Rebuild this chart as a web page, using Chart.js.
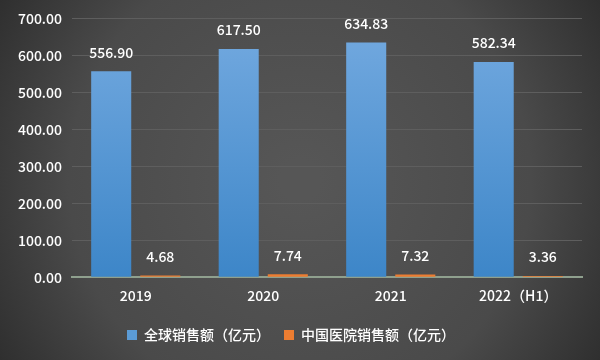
<!DOCTYPE html>
<html>
<head>
<meta charset="utf-8">
<script src="https://cdn.jsdelivr.net/npm/chart.js@4/dist/chart.umd.min.js"></script>
<style>
    html, body { margin: 0; padding: 0; background: #333; }
    #wrap { width: 600px; height: 360px; }
</style>
</head>
<body>
<div id="wrap"><canvas id="salesChart" width="600" height="360"></canvas></div>
<script>
    const categories = ['2019', '2020', '2021', '2022（H1）'];
    const globalSales = [556.90, 617.50, 634.83, 582.34];
    const chinaSales = [4.68, 7.74, 7.32, 3.36];
    const seriesNames = ['全球销售额（亿元）', '中国医院销售额（亿元）'];

    const FONT = '"Noto Sans CJK SC", "DejaVu Sans", sans-serif';

    // 背景：中间亮、四周暗
    const bgPlugin = {
        id: 'bg',
        beforeDraw(chart) {
            const { ctx, width, height } = chart;
            const g = ctx.createRadialGradient(width / 2, height / 2, 20, width / 2, height / 2, width * 0.62);
            g.addColorStop(0, '#565656');
            g.addColorStop(0.6, '#4a4a4a');
            g.addColorStop(1, '#2a2a2a');
            ctx.save();
            ctx.fillStyle = g;
            ctx.fillRect(0, 0, width, height);
            ctx.restore();
        }
    };

    // 柱顶数值
    const valueLabels = {
        id: 'valueLabels',
        afterDatasetsDraw(chart) {
            const { ctx } = chart;
            ctx.save();
            ctx.fillStyle = '#ffffff';
            ctx.font = '500 14px ' + FONT;
            ctx.textAlign = 'center';
            ctx.textBaseline = 'middle';
            chart.data.datasets.forEach((ds, i) => {
                chart.getDatasetMeta(i).data.forEach((bar, j) => {
                    ctx.fillText(ds.data[j].toFixed(2), bar.x, bar.y - 19);
                });
            });
            ctx.restore();
        }
    };

    function blueFill(context) {
        const area = context.chart.chartArea;
        if (!area) return '#5b9bd5';
        const g = context.chart.ctx.createLinearGradient(0, area.top, 0, area.bottom);
        g.addColorStop(0, '#74aae0');
        g.addColorStop(1, '#3d86c8');
        return g;
    }

    new Chart(document.getElementById('salesChart'), {
        type: 'bar',
        data: {
            labels: categories,
            datasets: [{
                label: seriesNames[0],
                data: globalSales,
                backgroundColor: blueFill,
                borderWidth: 0,
                categoryPercentage: 0.77,
                barPercentage: 0.816
            }, {
                label: seriesNames[1],
                data: chinaSales,
                backgroundColor: '#ed7d31',
                borderWidth: 0,
                categoryPercentage: 0.77,
                barPercentage: 0.816
            }]
        },
        options: {
            responsive: false,
            animation: false,
            layout: { padding: { left: 0, right: 18, top: 18, bottom: 8 } },
            plugins: {
                tooltip: { enabled: false },
                legend: {
                    position: 'bottom',
                    labels: {
                        color: '#ffffff',
                        font: { family: FONT, size: 14, weight: '500' },
                        boxWidth: 10,
                        boxHeight: 10,
                        padding: 14,
                        generateLabels(chart) {
                            return chart.data.datasets.map((ds, i) => ({
                                text: ds.label,
                                fillStyle: i === 0 ? '#5b9bd5' : '#ed7d31',
                                strokeStyle: 'transparent',
                                lineWidth: 0,
                                fontColor: '#ffffff',
                                datasetIndex: i
                            }));
                        }
                    }
                }
            },
            scales: {
                x: {
                    grid: { display: false, drawTicks: false },
                    border: { display: true, color: '#8fa08e', width: 2 },
                    ticks: { color: '#ffffff', font: { family: FONT, size: 14, weight: '500' }, padding: 10 }
                },
                y: {
                    min: 0,
                    max: 700,
                    afterFit(scale) { scale.width = 72; },
                    grid: { color: '#5e5e5e', lineWidth: 1, drawTicks: false },
                    border: { display: false },
                    ticks: {
                        stepSize: 100,
                        color: '#ffffff',
                        font: { family: FONT, size: 14, weight: '500' },
                        padding: 10,
                        callback: v => v.toFixed(2)
                    }
                }
            }
        },
        plugins: [bgPlugin, valueLabels]
    });
</script>
</body>
</html>
